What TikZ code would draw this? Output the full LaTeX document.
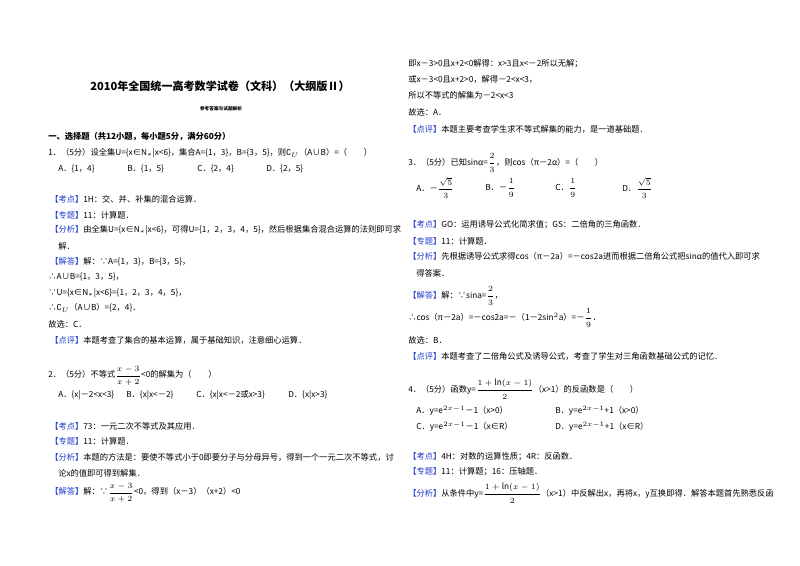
\documentclass[tikz,border=0pt]{standalone}
\usepackage{amsmath,amssymb}
\usepackage{fontspec}
\setmainfont{Noto Sans CJK SC}
\newfontfamily\djvfont{DejaVu Sans}
\definecolor{kb}{RGB}{30,60,200}
\newcommand{\kt}[1]{\textcolor{kb}{【#1】}}
\newcommand{\CU}{{\djvfont ∁}$_U$}
\begin{document}
\begin{tikzpicture}[x=0.75pt,y=-0.75pt,
  t/.style={anchor=west,inner sep=0,font=\fontsize{6.2}{8}\selectfont}]
\useasboundingbox[fill=white] (0,0) rectangle (800,565);
\node[inner sep=0,font=\bfseries\fontsize{8.3}{12}\selectfont] (title) at (220,86) {2010年全国统一高考数学试卷（文科）（大纲版Ⅱ）};
\node[inner sep=0,font=\bfseries\fontsize{3.5}{5}\selectfont] (sub) at (221,109) {参考答案与试题解析};
\node[t,font=\bfseries\fontsize{6.2}{8}\selectfont] (sec) at (48,137) {一、选择题（共12小题，每小题5分，满分60分）};
\node[t] (q1) at (48,153) {1．（5分）设全集U=\{x∈N$_*$|x<6\}，集合A=\{1，3\}，B=\{3，5\}，则\CU（A∪B）=（\quad\quad）};
\node[t] (q1a) at (58,169) {A．\{1，4\}};
\node[t] (q1b) at (127,169) {B．\{1，5\}};
\node[t] (q1c) at (197,169) {C．\{2，4\}};
\node[t] (q1d) at (266,169) {D．\{2，5\}};
\node[t] (l1) at (50,199) {\kt{考点}1H：交、并、补集的混合运算．};
\node[t] (l2) at (50,215) {\kt{专题}11：计算题．};
\node[t] (l3) at (50,230) {\kt{分析}由全集U=\{x∈N$_*$|x<6\}，可得U=\{1，2，3，4，5\}，然后根据集合混合运算的法则即可求};
\node[t] (l4) at (58,246) {解．};
\node[t] (l5) at (50,262) {\kt{解答}解：∵A=\{1，3\}，B=\{3，5\}，};
\node[t] (l6) at (48,277) {∴A∪B=\{1，3，5\}，};
\node[t] (l7) at (48,293) {∵U=\{x∈N$_*$|x<6\}=\{1，2，3，4，5\}，};
\node[t] (l8) at (48,308) {∴\CU（A∪B）=\{2，4\}．};
\node[t] (l9) at (48,324) {故选：C．};
\node[t] (l10) at (50,340) {\kt{点评}本题考查了集合的基本运算，属于基础知识，注意细心运算．};
\node[t] (q2) at (48,376) {2．（5分）不等式$\dfrac{x-3}{x+2}$<0的解集为（\quad\quad）};
\node[t] (q2a) at (58,395) {A．\{x|－2<x<3\}};
\node[t] (q2b) at (126,395) {B．\{x|x<－2\}};
\node[t] (q2c) at (196,395) {C．\{x|x<－2或x>3\}};
\node[t] (q2d) at (288,395) {D．\{x|x>3\}};
\node[t] (m1) at (50,426) {\kt{考点}73：一元二次不等式及其应用．};
\node[t] (m2) at (50,441) {\kt{专题}11：计算题．};
\node[t] (m3) at (50,457) {\kt{分析}本题的方法是：要使不等式小于0即要分子与分母异号，得到一个一元二次不等式，讨};
\node[t] (m4) at (58,473) {论x的值即可得到解集．};
\node[t] (m5) at (50,493) {\kt{解答}解：∵$\dfrac{x-3}{x+2}$<0，得到（x－3）（x+2）<0};
% right column
\node[t] (r1) at (408,64) {即x－3>0且x+2<0解得：x>3且x<－2所以无解；};
\node[t] (r2) at (408,79) {或x－3<0且x+2>0，解得－2<x<3，};
\node[t] (r3) at (408,95) {所以不等式的解集为－2<x<3};
\node[t] (r4) at (408,112) {故选：A．};
\node[t] (r5) at (408,129) {\kt{点评}本题主要考查学生求不等式解集的能力，是一道基础题．};
\node[t] (q3) at (408,163) {3．（5分）已知sinα=$\dfrac{2}{3}$，则cos（π－2α）=（\quad\quad）};
\node[t] (q3a) at (416,188) {A．－$\dfrac{\sqrt5}{3}$};
\node[t] (q3b) at (485,188) {B．－$\dfrac{1}{9}$};
\node[t] (q3c) at (555,188) {C．$\dfrac{1}{9}$};
\node[t] (q3d) at (622,188) {D．$\dfrac{\sqrt5}{3}$};
\node[t] (s1) at (408,225) {\kt{考点}GO：运用诱导公式化简求值；GS：二倍角的三角函数．};
\node[t] (s2) at (408,241) {\kt{专题}11：计算题．};
\node[t] (s3) at (408,256) {\kt{分析}先根据诱导公式求得cos（π－2a）=－cos2a进而根据二倍角公式把sinα的值代入即可求};
\node[t] (s4) at (416,273) {得答案．};
\node[t] (s5) at (408,296) {\kt{解答}解：∵sina=$\dfrac{2}{3}$，};
\node[t] (s6) at (408,318) {∴cos（π－2a）=－cos2a=－（1－2sin$^2$a）=－$\dfrac{1}{9}$．};
\node[t] (s7) at (408,340) {故选：B．};
\node[t] (s8) at (408,356) {\kt{点评}本题考查了二倍角公式及诱导公式，考查了学生对三角函数基础公式的记忆．};
\node[t] (q4) at (408,389) {4．（5分）函数y=$\dfrac{1+\ln(x-1)}{2}$（x>1）的反函数是（\quad\quad）};
\node[t] (q4a) at (416,411) {A．y=e$^{2x-1}$－1（x>0）};
\node[t] (q4b) at (555,411) {B．y=e$^{2x-1}$+1（x>0）};
\node[t] (q4c) at (416,427) {C．y=e$^{2x-1}$－1（x∈R）};
\node[t] (q4d) at (555,427) {D．y=e$^{2x-1}$+1（x∈R）};
\node[t] (u1) at (408,457) {\kt{考点}4H：对数的运算性质；4R：反函数．};
\node[t] (u2) at (408,472) {\kt{专题}11：计算题；16：压轴题．};
\node[t] (u3) at (408,493) {\kt{分析}从条件中y=$\dfrac{1+\ln(x-1)}{2}$（x>1）中反解出x，再将x，y互换即得．解答本题首先熟悉反函};
\end{tikzpicture}
\end{document}
